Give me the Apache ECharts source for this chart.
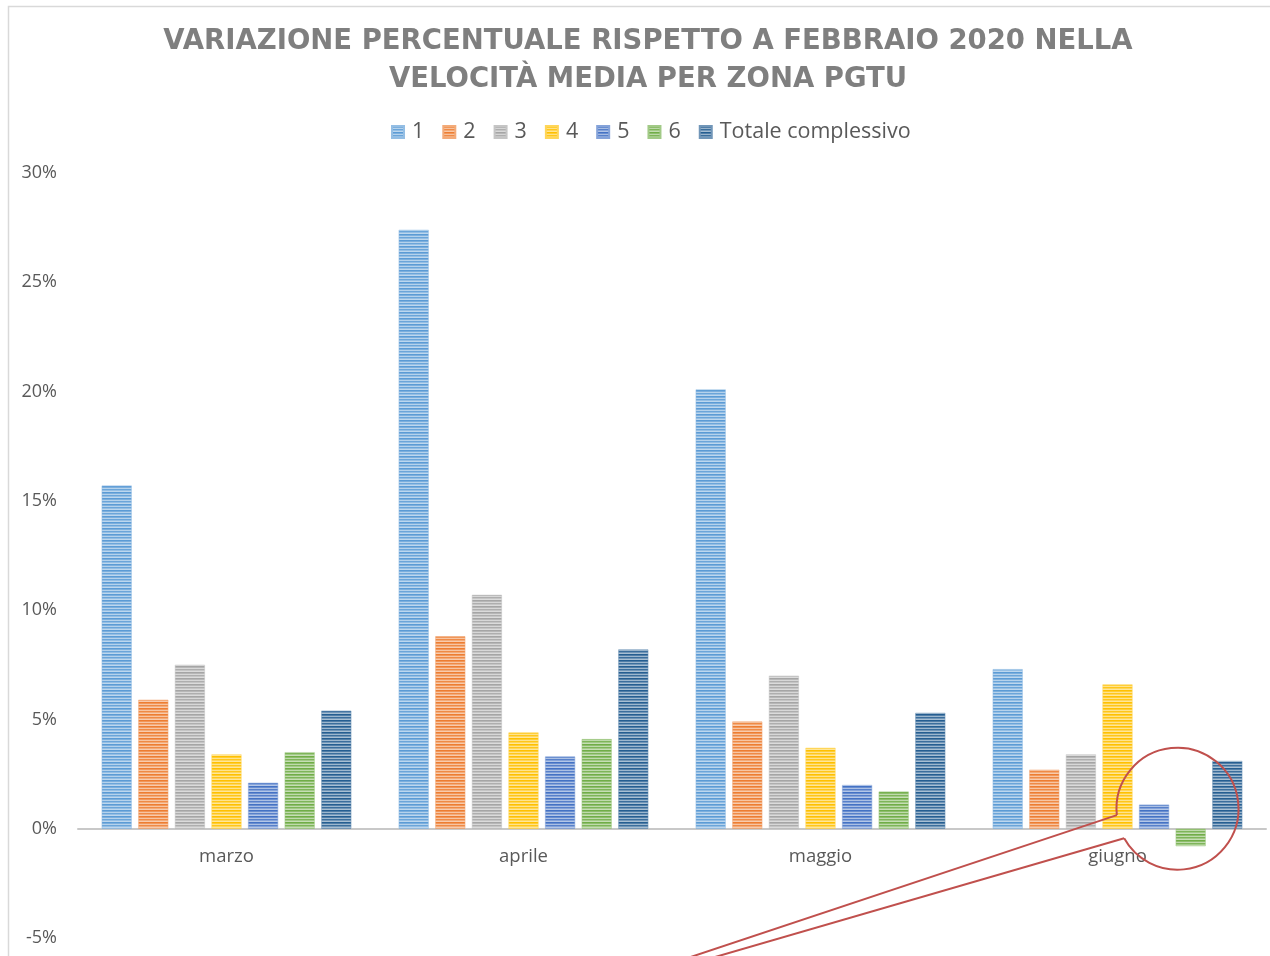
<!DOCTYPE html>
<html>
<head>
<meta charset="utf-8">
<script src="https://cdn.jsdelivr.net/npm/echarts@6/dist/echarts.min.js"></script>
<style>html,body{margin:0;padding:0;background:#fff}#c{width:1270px;height:956px}</style>
</head>
<body>
<div id="c"></div>
<script>
const categories = ['marzo', 'aprile', 'maggio', 'giugno'];
const seriesNames = ['1', '2', '3', '4', '5', '6', 'Totale complessivo'];
const zone1 = [0.157, 0.274, 0.201, 0.073];
const zone2 = [0.059, 0.088, 0.049, 0.027];
const zone3 = [0.075, 0.107, 0.070, 0.034];
const zone4 = [0.034, 0.044, 0.037, 0.066];
const zone5 = [0.021, 0.033, 0.020, 0.011];
const zone6 = [0.035, 0.041, 0.017, -0.008];
const totale = [0.054, 0.082, 0.053, 0.031];
const yTicks = [-0.05, 0, 0.05, 0.10, 0.15, 0.20, 0.25, 0.30];
const titleText = 'VARIAZIONE PERCENTUALE RISPETTO A FEBBRAIO 2020 NELLA\nVELOCITÀ MEDIA PER ZONA PGTU';

const seriesData = [zone1, zone2, zone3, zone4, zone5, zone6, totale];
const baseColors = ['#5b9bd5', '#ed7d31', '#a5a5a5', '#ffc000', '#4472c4', '#70ad47', '#255e91'];

function mix(hex, t) {
  const n = parseInt(hex.slice(1), 16);
  const r = (n >> 16) & 255, g = (n >> 8) & 255, b = n & 255;
  const f = c => Math.round(c + (255 - c) * t);
  return 'rgb(' + f(r) + ',' + f(g) + ',' + f(b) + ')';
}
function pattern(hex) {
  const cv = document.createElement('canvas');
  cv.width = 4; cv.height = 6;
  const ctx = cv.getContext('2d');
  const rows = [0, 0.2, 0.55, 0.1, 0.35, 0.6];
  rows.forEach((t, i) => { ctx.fillStyle = mix(hex, t); ctx.fillRect(0, i, 4, 1); });
  return { image: cv, repeat: 'repeat' };
}

const chart = echarts.init(document.getElementById('c'), null, { renderer: 'canvas' });
const font = '"Open Sans", "DejaVu Sans", sans-serif';

const gridTop = 173, gridBottom = 18;
const plotH = 956 - gridTop - gridBottom;
const yMin = yTicks[0], yMax = yTicks[yTicks.length - 1];
const zeroOffset = -plotH * (0 - yMin) / (yMax - yMin);

const option = {
  backgroundColor: '#ffffff',
  animation: false,
  title: {
    text: titleText,
    left: 643,
    textAlign: 'center',
    top: 18,
    textStyle: { fontFamily: '"DejaVu Sans", sans-serif', fontWeight: 'bold', fontSize: 27.5, color: '#7f7f7f', lineHeight: 38 }
  },
  legend: {
    top: 116,
    left: 386,
    icon: 'rect',
    itemWidth: 12,
    itemHeight: 12,
    itemGap: 18,
    data: seriesNames,
    textStyle: { fontFamily: font, fontSize: 21.5, color: '#595959', padding: [0, 0, 0, 3] }
  },
  grid: { left: 78, right: 4, top: gridTop, bottom: gridBottom, containLabel: false, outerBoundsMode: 'none' },
  xAxis: {
    type: 'category',
    data: categories,
    offset: zeroOffset,
    axisLine: { onZero: false, lineStyle: { color: '#c8c8c8', width: 2 } },
    axisTick: { show: false },
    axisLabel: { fontFamily: font, fontSize: 18.5, color: '#595959', margin: 19 },
    splitLine: { show: false }
  },
  yAxis: {
    type: 'value',
    min: yMin,
    max: yMax,
    interval: 0.05,
    axisLine: { show: false },
    axisTick: { show: false },
    splitLine: { show: false },
    axisLabel: {
      fontFamily: font, fontSize: 18, color: '#595959', margin: 21,
      formatter: v => Math.round(v * 100) + '%'
    }
  },
  series: seriesNames.map((name, i) => ({
    name: name,
    type: 'bar',
    data: seriesData[i],
    barWidth: 30,
    barGap: '22%',
    barCategoryGap: '16%',
    itemStyle: { color: pattern(baseColors[i]), borderColor: mix(baseColors[i], 0.35), borderWidth: 0.5 }
  }))
};
chart.setOption(option);

// decorative frame and callout annotation
const anchor = chart.convertToPixel({ gridIndex: 0 }, ['giugno', 0]);
const cx = anchor[0] + 60, cy = anchor[1] - 20, r = 61;
const a1 = 174 * Math.PI / 180, a2 = 151 * Math.PI / 180;
const p1 = [cx + r * Math.cos(a1), cy + r * Math.sin(a1)];
const p2 = [cx + r * Math.cos(a2), cy + r * Math.sin(a2)];
function extend(p, q, yEnd) {
  const t = (yEnd - p[1]) / (q[1] - p[1]);
  return [p[0] + (q[0] - p[0]) * t, yEnd];
}
const q1 = extend(p1, [anchor[0] - 423, anchor[1] + 127], 980);
const q2 = extend(p2, [anchor[0] - 398, anchor[1] + 127], 980);
const red = { fill: 'none', stroke: '#c0504d', lineWidth: 2 };

chart.setOption({
  graphic: [
    {
      type: 'rect', silent: true, z: 0,
      shape: { x: 8.5, y: 6.5, width: 1400, height: 1200 },
      style: { fill: 'none', stroke: '#d9d9d9', lineWidth: 1.5 }
    },
    {
      type: 'arc', silent: true, z: 100,
      shape: { cx: cx, cy: cy, r: r, startAngle: a1, endAngle: a2 + Math.PI * 2, clockwise: true },
      style: red
    },
    {
      type: 'polyline', silent: true, z: 100,
      shape: { points: [q1, p1] },
      style: red
    },
    {
      type: 'polyline', silent: true, z: 100,
      shape: { points: [p2, q2] },
      style: red
    }
  ]
});
</script>
</body>
</html>
